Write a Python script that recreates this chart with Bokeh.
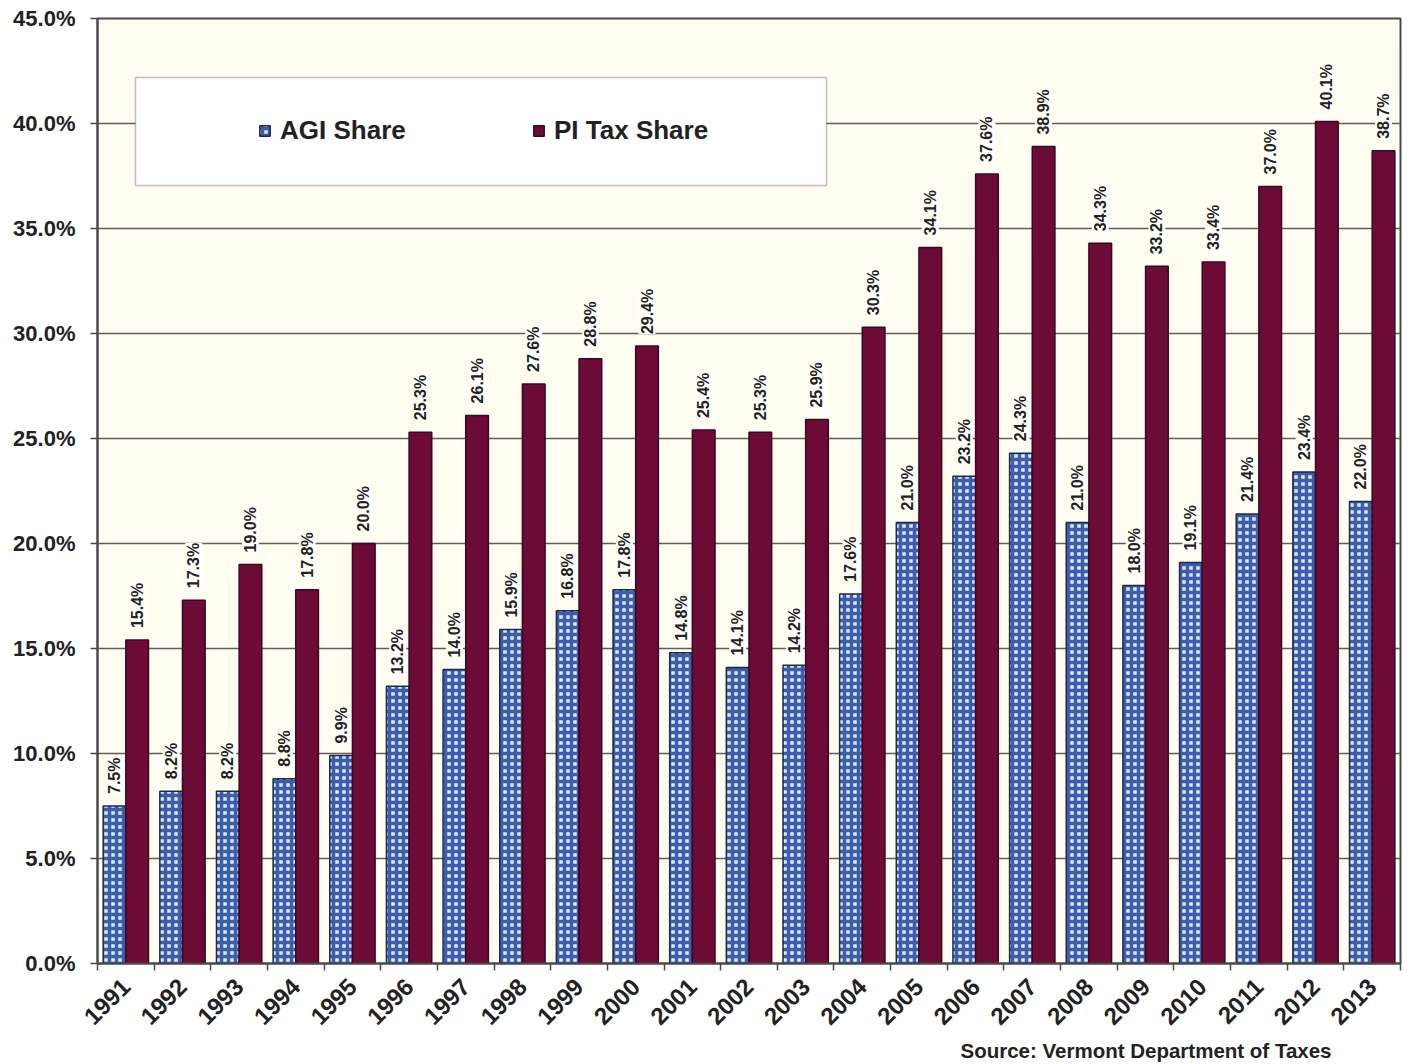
import math
from bokeh.plotting import figure
from bokeh.models import (ColumnDataSource, Range1d, FixedTicker, PrintfTickFormatter,
                          LabelSet, Legend, LegendItem, BoxAnnotation, Title)
from bokeh.core.properties import value
from bokeh.embed import file_html
from bokeh.resources import INLINE

years = [str(y) for y in range(1991, 2014)]
agi_share = [7.5, 8.2, 8.2, 8.8, 9.9, 13.2, 14.0, 15.9, 16.8, 17.8, 14.8, 14.1, 14.2,
             17.6, 21.0, 23.2, 24.3, 21.0, 18.0, 19.1, 21.4, 23.4, 22.0]
pi_tax_share = [15.4, 17.3, 19.0, 17.8, 20.0, 25.3, 26.1, 27.6, 28.8, 29.4, 25.4, 25.3, 25.9,
                30.3, 34.1, 37.6, 38.9, 34.3, 33.2, 33.4, 37.0, 40.1, 38.7]
y_ticks = [0, 5, 10, 15, 20, 25, 30, 35, 40, 45]
series_names = ["AGI Share", "PI Tax Share"]
source_note = "Source:  Vermont Department of Taxes"

FONT = "Liberation Sans"
n = len(years)
idx = list(range(n))

agi_src = ColumnDataSource(dict(x=[i - 0.2 for i in idx], top=agi_share,
                                lab=[f"{v:.1f}%" for v in agi_share]))
pi_src = ColumnDataSource(dict(x=[i + 0.2 for i in idx], top=pi_tax_share,
                               lab=[f"{v:.1f}%" for v in pi_tax_share]))

p = figure(width=1403, height=1063, output_backend="svg", toolbar_location=None,
           x_range=Range1d(-0.5, n - 0.5), y_range=Range1d(0, 45),
           min_border_left=97, min_border_right=3, min_border_top=18, min_border_bottom=95)

p.background_fill_color = "#FFFDF1"
p.border_fill_color = "white"
p.outline_line_color = "#4a4a4a"
p.outline_line_width = 2

agi_r = p.vbar(x="x", top="top", width=0.4, source=agi_src,
               fill_color="#D6ECF8", line_color="#1E2A48", line_width=1.5,
               hatch_pattern="cross", hatch_color="#3F5DAA", hatch_scale=7, hatch_weight=3.5)
pi_r = p.vbar(x="x", top="top", width=0.4, source=pi_src,
              fill_color="#6C0C36", line_color="#3C0620", line_width=1.5)

# Axes
p.yaxis.ticker = FixedTicker(ticks=y_ticks)
p.yaxis.formatter = PrintfTickFormatter(format="%.1f%%")
p.yaxis.major_label_text_font = FONT
p.yaxis.major_label_text_font_style = "bold"
p.yaxis.major_label_text_font_size = "22px"
p.yaxis.major_label_text_color = "#222222"
p.yaxis.major_label_standoff = 15
p.yaxis.major_tick_out = 7
p.yaxis.major_tick_in = 0
p.yaxis.minor_tick_line_color = None
p.yaxis.axis_line_color = "#4a4a4a"
p.yaxis.axis_line_width = 2
p.yaxis.major_tick_line_color = "#4a4a4a"
p.yaxis.major_tick_line_width = 1.5

p.xaxis.ticker = FixedTicker(ticks=idx, minor_ticks=[i - 0.5 for i in range(n + 1)])
p.xaxis.major_label_overrides = {i: y for i, y in zip(idx, years)}
p.xaxis.major_label_orientation = math.pi / 4
p.xaxis.major_label_text_font = FONT
p.xaxis.major_label_text_font_style = "bold"
p.xaxis.major_label_text_font_size = "24px"
p.xaxis.major_label_text_color = "#222222"
p.xaxis.major_label_standoff = 12
p.xaxis.major_tick_line_color = None
p.xaxis.minor_tick_out = 7
p.xaxis.minor_tick_in = 0
p.xaxis.minor_tick_line_color = "#4a4a4a"
p.xaxis.minor_tick_line_width = 1.5
p.xaxis.axis_line_color = "#4a4a4a"
p.xaxis.axis_line_width = 2

p.xgrid.grid_line_color = None
p.ygrid.ticker = FixedTicker(ticks=y_ticks)
p.ygrid.grid_line_color = "#5e5e5e"
p.ygrid.grid_line_width = 1.5

# Value labels
for src in (agi_src, pi_src):
    p.add_layout(LabelSet(x="x", y="top", text="lab", source=src, angle=math.pi / 2,
                          text_align="left", text_baseline="middle", y_offset=12,
                          text_font=value(FONT), text_font_style="bold", text_font_size="16px",
                          text_color="#222222",
                          background_fill_color="#FFFFFA", background_fill_alpha=1.0))

# Legend box and legend
p.add_layout(BoxAnnotation(left=38, right=729, bottom=778, top=886,
                           left_units="screen", right_units="screen",
                           bottom_units="screen", top_units="screen",
                           fill_color="white", fill_alpha=1.0,
                           line_color="#333333", line_width=1.5, level="annotation"))
legend = Legend(items=[LegendItem(label=series_names[0], renderers=[agi_r]),
                       LegendItem(label=series_names[1], renderers=[pi_r])],
                orientation="horizontal", location=(161, 817),
                padding=0, margin=0, spacing=124,
                glyph_width=13, glyph_height=13, label_standoff=9,
                label_width=128, label_height=30,
                label_text_font=FONT, label_text_font_style="bold",
                label_text_font_size="26px", label_text_color="#222222",
                background_fill_alpha=0, border_line_color=None)
p.add_layout(legend)

p.add_layout(Title(text=source_note, align="left", offset=863, standoff=3,
                   text_font=FONT, text_font_style="bold", text_font_size="20.5px",
                   text_color="#222222"), "below")

open("out.html", "w").write(file_html(p, INLINE))
